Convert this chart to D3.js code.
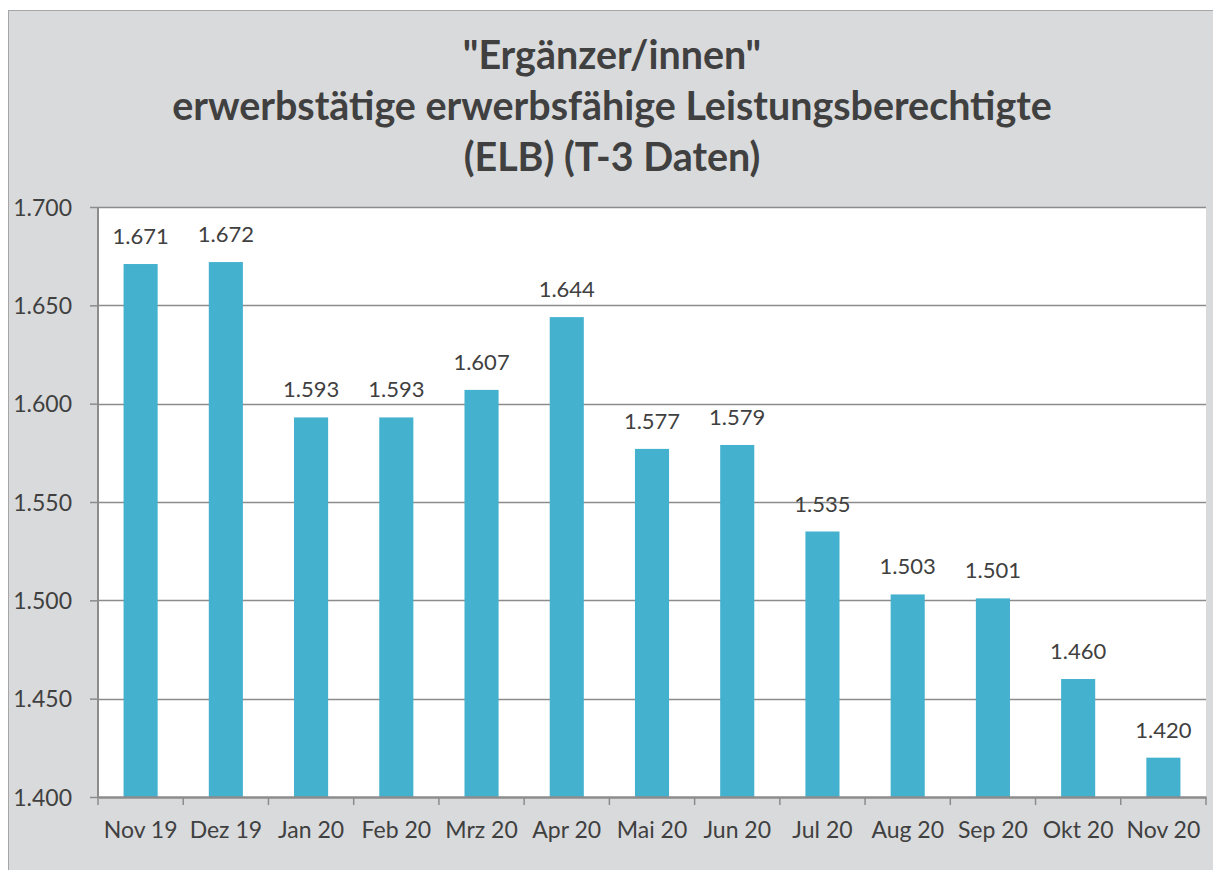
<!DOCTYPE html>
<html>
<head>
<meta charset="utf-8">
<script src="https://cdn.jsdelivr.net/npm/d3@7"></script>
<style>
  body { margin: 0; background: #fff; }
  svg { display: block; font-family: Lato, "Open Sans", sans-serif; }
</style>
</head>
<body>
<div id="chart"></div>
<script>
var months = ["Nov 19","Dez 19","Jan 20","Feb 20","Mrz 20","Apr 20","Mai 20","Jun 20","Jul 20","Aug 20","Sep 20","Okt 20","Nov 20"]
var values = [1.671,1.672,1.593,1.593,1.607,1.644,1.577,1.579,1.535,1.503,1.501,1.460,1.420]
var yTicks = [1.400,1.450,1.500,1.550,1.600,1.650,1.700]
var titleLines = ["\"Ergänzer/innen\"","erwerbstätige erwerbsfähige Leistungsberechtigte","(ELB) (T-3 Daten)"]

var W = 1213, H = 870
var margin = {top: 207, right: 7, bottom: 73, left: 98}
var width = W - margin.left - margin.right,
    height = H - margin.top - margin.bottom

function fmt(v){
  return d3.format(".3f")(v)
}

var svg = d3.select("#chart").append("svg")
  .attr("width", W)
  .attr("height", H)

// outer chart frame (cut off right and bottom like the screenshot)
svg.append("rect")
  .attr("x", 8.5).attr("y", 10.5)
  .attr("width", W).attr("height", H)
  .attr("fill", "#d9dadc")
  .attr("stroke", "#a6a6a6")
  .attr("stroke-width", 1)

// title, size fitted so the long line is ~880px wide
var titles = svg.selectAll(".title")
  .data(titleLines)
  .enter().append("text")
    .attr("class", "title")
    .attr("x", 612)
    .attr("y", function(d, i){ return 69 + i*51 })
    .attr("text-anchor", "middle")
    .attr("font-size", 36)
    .attr("font-weight", "bold")
    .attr("fill", "#404040")
    .text(function(d){ return d })
var w2 = titles.nodes()[1].getComputedTextLength()
var fs = Math.min(40, 36 * 880 / w2)
titles.attr("font-size", fs)

var g = svg.append("g")
  .attr("transform", "translate(" + margin.left + "," + margin.top + ")")

g.append("rect")
  .attr("width", width).attr("height", height)
  .attr("fill", "#fff")

var x = d3.scaleBand().domain(months).range([0, width]).paddingInner(0.6).paddingOuter(0.3)
var y = d3.scaleLinear().domain([1.4, 1.7]).range([height, 0])

// gridlines
g.selectAll(".grid")
  .data(yTicks.slice(1))
  .enter().append("line")
    .attr("class", "grid")
    .attr("x1", 0).attr("x2", width)
    .attr("y1", function(d){ return Math.round(y(d)) + 0.5 })
    .attr("y2", function(d){ return Math.round(y(d)) + 0.5 })
    .attr("stroke", "#8c8c8c")
    .attr("stroke-width", 1.3)

g.selectAll(".bar")
  .data(values)
  .enter().append("rect")
    .attr("class", "bar")
    .attr("x", function(d, i){ return x(months[i]) })
    .attr("width", x.bandwidth())
    .attr("y", function(d){ return y(d) })
    .attr("height", function(d){ return height - y(d) })
    .attr("fill", "#44b1ce")

g.selectAll(".lbl")
  .data(values)
  .enter().append("text")
    .attr("class", "lbl")
    .attr("x", function(d, i){ return x(months[i]) + x.bandwidth()/2 })
    .attr("y", function(d){ return y(d) - 20 })
    .attr("text-anchor", "middle")
    .attr("font-size", 22)
    .attr("fill", "#404040")
    .text(fmt)

// axes
var yAxis = g.append("g")
  .call(d3.axisLeft(y).tickValues(yTicks).tickSize(8).tickPadding(8).tickFormat(fmt))
yAxis.select(".domain").attr("stroke", "#8c8c8c").attr("stroke-width", 2).attr("d", "M0," + height + "V0")
yAxis.selectAll(".tick line").attr("stroke", "#8c8c8c").attr("stroke-width", 1.5)
yAxis.selectAll(".tick text").attr("font-size", 23).attr("fill", "#404040").attr("font-family", "Lato, sans-serif").attr("x", -26).attr("dy", "0.35em")

var xb = d3.scaleBand().domain(months).range([0, width])
var xAxis = g.append("g")
  .attr("transform", "translate(0," + height + ")")
  .call(d3.axisBottom(xb).tickSize(0).tickPadding(25))
xAxis.select(".domain").attr("stroke", "#8c8c8c").attr("stroke-width", 2.5)
xAxis.selectAll(".tick text").attr("font-size", 23).attr("fill", "#404040").attr("font-family", "Lato, sans-serif")

// category separators
g.selectAll(".sep")
  .data(d3.range(months.length + 1))
  .enter().append("line")
    .attr("class", "sep")
    .attr("x1", function(i){ return i * xb.step() })
    .attr("x2", function(i){ return i * xb.step() })
    .attr("y1", height).attr("y2", height + 8)
    .attr("stroke", "#8c8c8c").attr("stroke-width", 1.5)
</script>
</body>
</html>
